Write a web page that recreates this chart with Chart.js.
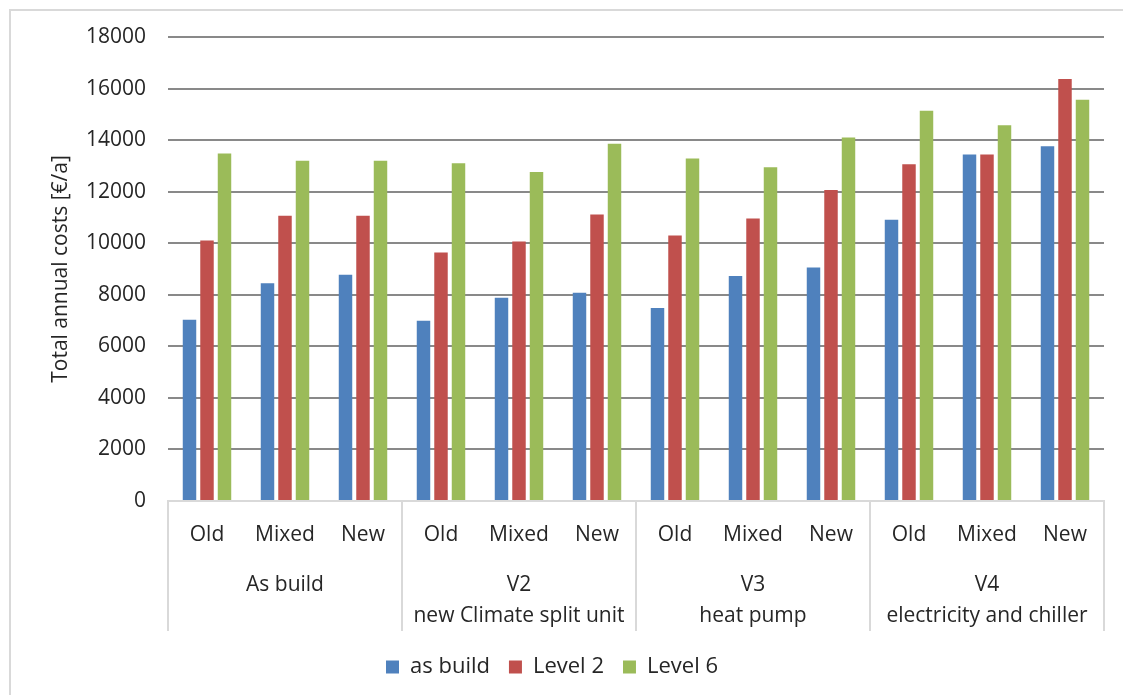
<!DOCTYPE html>
<html>
<head>
<meta charset="utf-8">
<title>Total annual costs</title>
<script src="https://cdn.jsdelivr.net/npm/chart.js@4.4.1/dist/chart.umd.min.js"></script>
<style>
  html, body { margin: 0; padding: 0; background: #ffffff; }
  canvas { display: block; }
</style>
</head>
<body>
<canvas id="costs" width="1123" height="695"></canvas>
<script>
// Building types within each variant
const categories = ['Old', 'Mixed', 'New', 'Old', 'Mixed', 'New', 'Old', 'Mixed', 'New', 'Old', 'Mixed', 'New'];
// Variant groups (multi-line labels)
const groups = [
  ['As build'],
  ['V2', 'new Climate split unit'],
  ['V3', 'heat pump'],
  ['V4', 'electricity and chiller']
];
// Total annual costs [€/a]
const asBuild = [7030, 8450, 8780, 6990, 7880, 8080, 7490, 8730, 9060, 10910, 13440, 13760];
const level2  = [10110, 11070, 11070, 9640, 10070, 11110, 10300, 10960, 12060, 13060, 13440, 16370];
const level6  = [13480, 13200, 13200, 13100, 12760, 13860, 13290, 12950, 14100, 15140, 14580, 15570];
const yTicks  = [0, 2000, 4000, 6000, 8000, 10000, 12000, 14000, 16000, 18000];

const FONT = '"Open Sans", "Liberation Sans", sans-serif';
const TEXT = '#262626';
const FRAME = '#D9D9D9';
const GROUP_ROWS = 130; // height of the two label rows under the plot

// Light frame around the figure and separators between variant groups
const groupLines = {
  id: 'groupLines',
  beforeDraw(chart) {
    const ctx = chart.ctx;
    ctx.save();
    ctx.fillStyle = '#ffffff';
    ctx.fillRect(0, 0, chart.width, chart.height);
    ctx.strokeStyle = FRAME;
    ctx.lineWidth = 2;
    ctx.beginPath();
    ctx.moveTo(10, chart.height + 5);
    ctx.lineTo(10, 10);
    ctx.lineTo(chart.width + 5, 10);
    ctx.stroke();
    ctx.restore();
  },
  afterDraw(chart) {
    const x = chart.scales.x;
    const area = chart.chartArea;
    const edges = [area.left];
    for (let i = 3; i < categories.length; i += 3) {
      edges.push((x.getPixelForValue(i - 1) + x.getPixelForValue(i)) / 2);
    }
    edges.push(area.right);
    const ctx = chart.ctx;
    ctx.save();
    ctx.strokeStyle = FRAME;
    ctx.lineWidth = 2;
    ctx.beginPath();
    edges.forEach(px => {
      const p = Math.round(px);
      ctx.moveTo(p, area.bottom);
      ctx.lineTo(p, area.bottom + GROUP_ROWS);
    });
    ctx.stroke();
    ctx.restore();
  }
};

new Chart(document.getElementById('costs'), {
  type: 'bar',
  data: {
    labels: categories,
    datasets: [
      { label: 'as build', data: asBuild, backgroundColor: '#4F81BD' },
      { label: 'Level 2',  data: level2,  backgroundColor: '#C0504D' },
      { label: 'Level 6',  data: level6,  backgroundColor: '#9BBB59' }
    ]
  },
  options: {
    responsive: false,
    animation: false,
    devicePixelRatio: 1,
    layout: { padding: { left: 0, top: 37, right: 19, bottom: 7 } },
    datasets: {
      bar: { categoryPercentage: 0.673, barPercentage: 0.77 }
    },
    plugins: {
      legend: {
        position: 'bottom',
        labels: {
          boxWidth: 13,
          boxHeight: 13,
          padding: 19,
          color: TEXT,
          font: { family: FONT, size: 22 }
        }
      },
      tooltip: { enabled: false }
    },
    scales: {
      y: {
        min: 0,
        max: 18000,
        afterBuildTicks(scale) { scale.ticks = yTicks.map(v => ({ value: v })); },
        afterFit(scale) { scale.width = 168; },
        border: { display: false },
        grid: {
          drawTicks: false,
          lineWidth: 2,
          color: ctx => (ctx.tick && ctx.tick.value === 0) ? 'rgba(0,0,0,0)' : '#898989'
        },
        ticks: {
          padding: 22,
          color: TEXT,
          font: { family: FONT, size: 21 },
          callback: v => String(v)
        },
        title: {
          display: true,
          text: 'Total annual costs [€/a]',
          color: TEXT,
          font: { family: FONT, size: 21 },
          padding: { top: 48, bottom: 0 }
        }
      },
      x: {
        position: 'bottom',
        afterFit(scale) { scale.height = 45; },
        border: { display: true, color: FRAME, width: 2 },
        grid: { display: false },
        ticks: {
          padding: 13,
          maxRotation: 0,
          autoSkip: false,
          color: TEXT,
          font: { family: FONT, size: 21 }
        }
      },
      x2: {
        type: 'category',
        position: 'bottom',
        labels: groups,
        offset: true,
        afterFit(scale) { scale.height = 91; },
        border: { display: false },
        grid: { display: false },
        ticks: {
          padding: 16,
          maxRotation: 0,
          autoSkip: false,
          color: TEXT,
          font: { family: FONT, size: 21, lineHeight: 1.476 }
        }
      }
    }
  },
  plugins: [groupLines]
});
</script>
</body>
</html>
